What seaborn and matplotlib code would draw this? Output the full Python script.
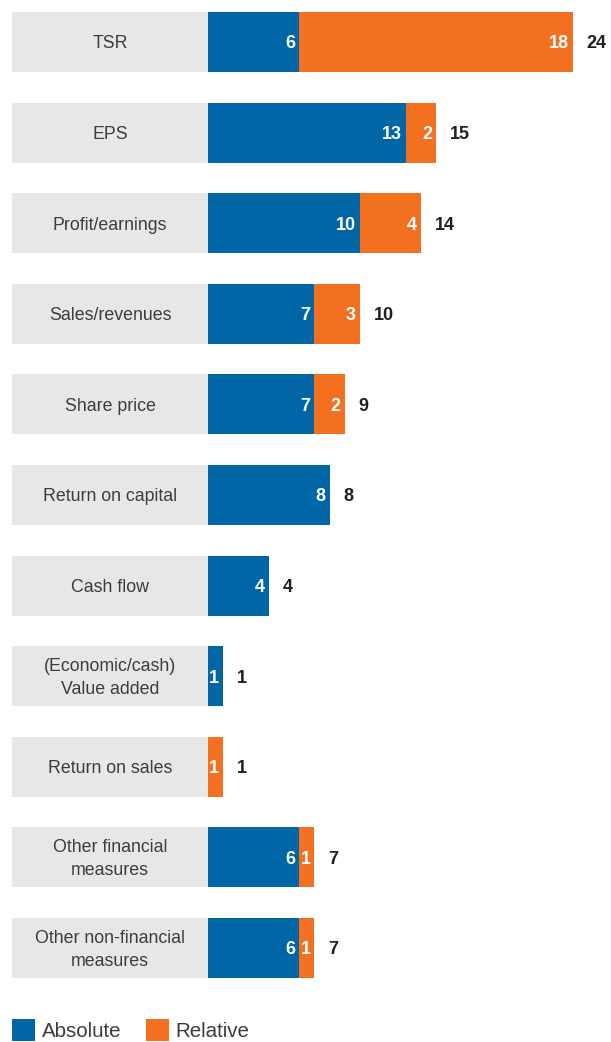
import matplotlib
matplotlib.use("Agg")
import matplotlib.pyplot as plt
import seaborn as sns
import pandas as pd
from matplotlib.patches import Patch

categories = ["TSR", "EPS", "Profit/earnings", "Sales/revenues", "Share price",
              "Return on capital", "Cash flow", "(Economic/cash)\nValue added",
              "Return on sales", "Other financial\nmeasures", "Other non-financial\nmeasures"]
absolute = [6, 13, 10, 7, 7, 8, 4, 1, 0, 6, 6]
relative = [18, 2, 4, 3, 2, 0, 0, 0, 1, 1, 1]
legend_labels = ["Absolute", "Relative"]

BLUE = "#0066A6"
ORANGE = "#F37021"
GREY = "#E6E7E8"
TEXT = "#3C3C3C"
DARK = "#231F20"

df = pd.DataFrame({"category": categories, "absolute": absolute, "relative": relative})
df["total"] = df["absolute"] + df["relative"]

sns.set_theme(style="white")
plt.rcParams["font.family"] = ["Liberation Sans", "DejaVu Sans"]

W, H = 611, 1042
fig = plt.figure(figsize=(W / 100, H / 100), dpi=100)
ax = fig.add_axes([0, 0, 1, 1])

PX = 15.2            # pixels per unit
LABEL_W = 196 / PX   # grey label box width in data units
X0 = 208 / PX
BAR_H = 0.662
n = len(df)

sns.barplot(data=df, x="total", y="category", color=ORANGE, orient="h",
            width=BAR_H, saturation=1, errorbar=None, linewidth=0, ax=ax)
sns.barplot(data=df, x="absolute", y="category", color=BLUE, orient="h",
            width=BAR_H, saturation=1, errorbar=None, linewidth=0, ax=ax)
ax.barh(range(n), [LABEL_W] * n, left=-LABEL_W, height=BAR_H, color=GREY, linewidth=0)

pad = 4 / PX
dy = 0.02  # small downward nudge for optical centring
for i, row in df.iterrows():
    ax.text(-LABEL_W / 2, i + dy, row["category"], ha="center", va="center",
            fontsize=12.8, color=TEXT, linespacing=1.45)
    a, r, t = row["absolute"], row["relative"], row["total"]
    if a > 0:
        ax.text(a - pad, i + dy, str(a), ha="right", va="center", color="white",
                fontweight="bold", fontsize=13)
    if r > 0:
        ax.text(t - pad, i + dy, str(r), ha="right", va="center", color="white",
                fontweight="bold", fontsize=13)
    ax.text(t + 14 / PX, i + dy, str(t), ha="left", va="center", color=DARK,
            fontweight="bold", fontsize=13)

ax.set_xlim(-X0, (W - 208) / PX)
ax.set_ylim((H - 42) / 90.6, -42 / 90.6)
ax.axis("off")

handles = [Patch(facecolor=BLUE, linewidth=0, label=legend_labels[0]),
           Patch(facecolor=ORANGE, linewidth=0, label=legend_labels[1])]
fig.legend(handles=handles, loc="center left", bbox_to_anchor=(12 / W, 1 - 1030 / H),
           ncol=2, frameon=False, fontsize=14.8, handlelength=1.12, handleheight=1.3,
           handletextpad=0.34, columnspacing=1.17, borderpad=0, borderaxespad=0,
           labelcolor=TEXT)

fig.savefig("out.png", dpi=100)
